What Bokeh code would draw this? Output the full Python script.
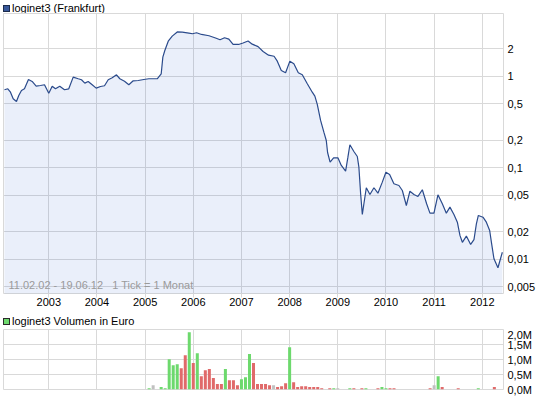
from bokeh.plotting import figure
from bokeh.models import Range1d, FixedTicker, Label, ColumnDataSource, Div
from bokeh.layouts import column
from bokeh.embed import file_html
from bokeh.resources import INLINE

FONT = "Liberation Sans"
GRID = "#d9d9d9"

# ---- price series (decimal year, EUR) ----
price_t = [2002.080, 2002.149, 2002.205, 2002.261, 2002.329, 2002.377, 2002.433, 2002.495, 2002.578, 2002.655,
           2002.738, 2002.828, 2002.911, 2003.000, 2003.071, 2003.139, 2003.228, 2003.326, 2003.415, 2003.507,
           2003.611, 2003.679, 2003.748, 2003.818, 2003.901, 2003.984, 2004.074, 2004.157, 2004.234, 2004.317,
           2004.406, 2004.475, 2004.572, 2004.662, 2004.753, 2004.857, 2004.973, 2005.077, 2005.251, 2005.334,
           2005.368, 2005.409, 2005.480, 2005.563, 2005.667, 2005.771, 2005.908, 2005.984, 2006.068, 2006.171,
           2006.327, 2006.462, 2006.556, 2006.649, 2006.738, 2006.826, 2006.940, 2007.033, 2007.137, 2007.224,
           2007.345, 2007.449, 2007.563, 2007.677, 2007.744, 2007.827, 2007.916, 2008.005, 2008.088, 2008.180,
           2008.263, 2008.367, 2008.470, 2008.524, 2008.574, 2008.643, 2008.711, 2008.761, 2008.788, 2008.840,
           2008.913, 2009.002, 2009.073, 2009.162, 2009.210, 2009.251, 2009.334, 2009.405, 2009.438, 2009.474,
           2009.509, 2009.542, 2009.592, 2009.667, 2009.750, 2009.833, 2009.924, 2009.999, 2010.076, 2010.165,
           2010.269, 2010.340, 2010.423, 2010.497, 2010.581, 2010.664, 2010.755, 2010.844, 2010.913, 2010.996,
           2011.079, 2011.170, 2011.253, 2011.328, 2011.411, 2011.482, 2011.536, 2011.586, 2011.669, 2011.758,
           2011.827, 2011.877, 2011.918, 2012.014, 2012.084, 2012.153, 2012.194, 2012.242, 2012.325, 2012.367,
           2012.416]
price_v = [0.715, 0.733, 0.673, 0.570, 0.532, 0.619, 0.703, 0.733, 0.927, 0.882,
           0.783, 0.797, 0.811, 0.656, 0.783, 0.733, 0.783, 0.715, 0.733, 0.983,
           0.944, 0.920, 0.845, 0.882, 0.811, 0.745, 0.777, 0.791, 0.920, 0.968,
           1.044, 0.944, 0.888, 0.811, 0.897, 0.904, 0.927, 0.944, 0.944, 1.070,
           1.627, 1.926, 2.434, 2.762, 3.070, 3.055, 2.979, 2.934, 3.008, 2.883,
           2.790, 2.639, 2.522, 2.652, 2.560, 2.240, 2.240, 2.326, 2.447, 2.257,
           2.120, 1.878, 1.711, 1.664, 1.471, 1.163, 1.098, 1.471, 1.377, 1.098,
           1.044, 0.832, 0.673, 0.609, 0.494, 0.330, 0.2456, 0.1993, 0.1472, 0.1153,
           0.1288, 0.1288, 0.1061, 0.0919, 0.1308, 0.1788, 0.1510, 0.1331, 0.1016, 0.0520,
           0.0309, 0.0404, 0.0605, 0.0511, 0.0605, 0.0528, 0.0697, 0.0896, 0.0846, 0.0669,
           0.0641, 0.0565, 0.0387, 0.0555, 0.0511, 0.0486, 0.0575, 0.0404, 0.0319, 0.0319,
           0.0507, 0.0404, 0.0319, 0.0371, 0.0309, 0.0254, 0.0182, 0.0153, 0.0179, 0.0145,
           0.0164, 0.0244, 0.0301, 0.0288, 0.0254, 0.0206, 0.0147, 0.0101, 0.00805, 0.00968,
           0.0119]

year_ticks = [2003, 2004, 2005, 2006, 2007, 2008, 2009, 2010, 2011, 2012]
price_ticks = [0.005, 0.01, 0.02, 0.05, 0.1, 0.2, 0.5, 1, 2]
price_tick_labels = ["0,005", "0,01", "0,02", "0,05", "0,1", "0,2", "0,5", "1", "2"]

# ---- monthly volume (million EUR) ----
vol_month = ["2005-02", "2005-03", "2005-05", "2005-06", "2005-07", "2005-08", "2005-09", "2005-10", "2005-11", "2005-12",
             "2006-01", "2006-02", "2006-03", "2006-04", "2006-05", "2006-06", "2006-07", "2006-08", "2006-09", "2006-10",
             "2006-11", "2006-12", "2007-01", "2007-02", "2007-03", "2007-04", "2007-05", "2007-06", "2007-07", "2007-08",
             "2007-09", "2007-10", "2007-11", "2007-12", "2008-01", "2008-02", "2008-03", "2008-04", "2008-05", "2008-06",
             "2008-07", "2008-08", "2008-09", "2008-11", "2008-12", "2009-01", "2009-04", "2009-05", "2009-07", "2009-08",
             "2009-11", "2009-12", "2010-01", "2010-02", "2010-03", "2010-12", "2011-01", "2011-02", "2011-03", "2011-07",
             "2011-12", "2012-04"]
vol_value = [0.044, 0.14, 0.08, 0.04, 1.01, 0.81, 0.84, 0.71, 1.14, 1.91,
             0.88, 1.21, 0.44, 0.64, 0.68, 0.38, 0.18, 0.18, 0.68, 0.31,
             0.31, 0.14, 0.34, 0.41, 1.18, 0.88, 0.18, 0.18, 0.18, 0.14,
             0.14, 0.08, 0.11, 0.21, 1.41, 0.24, 0.08, 0.11, 0.11, 0.08,
             0.08, 0.08, 0.04, 0.04, 0.04, 0.04, 0.04, 0.04, 0.04, 0.04,
             0.04, 0.08, 0.04, 0.04, 0.04, 0.04, 0.14, 0.44, 0.08, 0.04,
             0.04, 0.08]
vol_trend = ["up", "flat", "up", "up", "up", "up", "up", "down", "down", "up",
             "down", "up", "down", "down", "down", "down", "down", "down", "up", "down",
             "down", "down", "up", "up", "up", "down", "down", "down", "down", "down",
             "flat", "down", "down", "down", "up", "down", "down", "down", "down", "down",
             "down", "down", "down", "down", "up", "flat", "up", "down", "down", "up",
             "down", "up", "up", "down", "down", "down", "flat", "up", "down", "down",
             "up", "down"]
vol_ticks = [0, 0.5, 1.0, 1.5, 2.0]
vol_tick_labels = ["0,0M", "0,5M", "1,0M", "1,5M", "2,0M"]

trend_color = {"up": "#6dd96d", "down": "#e06a6a", "flat": "#c0c0c0"}

x_start, x_end = 2002.06, 2012.44
W = 545


def style_right_axis(ax, ticks, labels):
    ax.ticker = FixedTicker(ticks=ticks)
    ax.major_label_overrides = {float(k): v for k, v in zip(ticks, labels)}
    ax.axis_line_color = None
    ax.major_tick_line_color = None
    ax.minor_tick_line_color = None
    ax.major_tick_out = 0
    ax.major_tick_in = 0
    ax.minor_tick_out = 0
    ax.minor_tick_in = 0
    ax.major_label_standoff = 4
    ax.major_label_text_font = FONT
    ax.major_label_text_font_size = "11px"
    ax.major_label_text_color = "#000000"


def header(label, fill, border, h):
    html = (
        f'<div style="display:flex;align-items:center;height:{h}px;'
        f'font-family:\'{FONT}\';font-size:11px;color:#000;white-space:nowrap;">'
        f'<span style="display:inline-block;width:7px;height:7px;background:{fill};'
        f'border:1px solid {border};margin:0 2px 0 3px;"></span>{label}</div>'
    )
    return Div(text=html, width=W, height=h, margin=(0, 0, 0, 0))


# ---------------- price panel ----------------
p1 = figure(width=W, height=300,
            x_range=Range1d(x_start, x_end), y_range=Range1d(0.00421, 4.89),
            y_axis_type="log", y_axis_location="right",
            output_backend="svg", toolbar_location=None,
            min_border_left=3, min_border_right=42, min_border_top=0, min_border_bottom=20,
            outline_line_color=GRID, background_fill_color="white", border_fill_color="white")

src = ColumnDataSource(dict(t=price_t, v=price_v))
p1.varea(x="t", y1=0.001, y2="v", source=src, fill_color="#3366cc", fill_alpha=0.1)
p1.line(x="t", y="v", source=src, line_color="#2b4b8c", line_width=1.2)

p1.xaxis.ticker = FixedTicker(ticks=year_ticks)
p1.xaxis.axis_line_color = None
p1.xaxis.major_tick_line_color = GRID
p1.xaxis.major_tick_out = 4
p1.xaxis.major_tick_in = 0
p1.xaxis.minor_tick_line_color = None
p1.xaxis.major_label_standoff = 0
p1.xaxis.major_label_text_font = FONT
p1.xaxis.major_label_text_font_size = "11px"
p1.xaxis.major_label_text_color = "#000000"
style_right_axis(p1.yaxis[0], price_ticks, price_tick_labels)

p1.xgrid.ticker = FixedTicker(ticks=year_ticks)
p1.ygrid.ticker = FixedTicker(ticks=price_ticks)
p1.xgrid.grid_line_color = GRID
p1.ygrid.grid_line_color = GRID

p1.add_layout(Label(x=5, y=3, x_units="screen", y_units="screen",
                    text="11.02.02 - 19.06.12 \u00a0 1 Tick = 1 Monat",
                    text_font=FONT, text_font_size="11px", text_color="#9a9a9a",
                    text_baseline="bottom"))

# ---------------- volume panel ----------------
p2 = figure(width=W, height=70,
            x_range=p1.x_range, y_range=Range1d(0, 2.0),
            x_axis_location=None, y_axis_location="right",
            output_backend="svg", toolbar_location=None,
            min_border_left=3, min_border_right=42, min_border_top=1, min_border_bottom=9,
            outline_line_color=GRID, background_fill_color="white", border_fill_color="white")

vol_x = [int(m[:4]) + (int(m[5:]) - 1) / 12 for m in vol_month]
vsrc = ColumnDataSource(dict(x=vol_x, top=vol_value, color=[trend_color[t] for t in vol_trend]))
p2.vbar(x="x", top="top", bottom=0, width=0.75 / 12, source=vsrc, fill_color="color", line_color=None)

style_right_axis(p2.yaxis[0], vol_ticks, vol_tick_labels)
p2.xgrid.ticker = FixedTicker(ticks=year_ticks)
p2.ygrid.ticker = FixedTicker(ticks=vol_ticks)
p2.xgrid.grid_line_color = GRID
p2.ygrid.grid_line_color = GRID

h1 = header("loginet3 (Frankfurt)", "#38589a", "#1c2c4c", 13)
h2 = header("loginet3 Volumen in Euro", "#6dd96d", "#2a2a2a", 15)

layout = column(h1, p1, h2, p2, spacing=0)
open("out.html", "w").write(file_html(layout, INLINE))
